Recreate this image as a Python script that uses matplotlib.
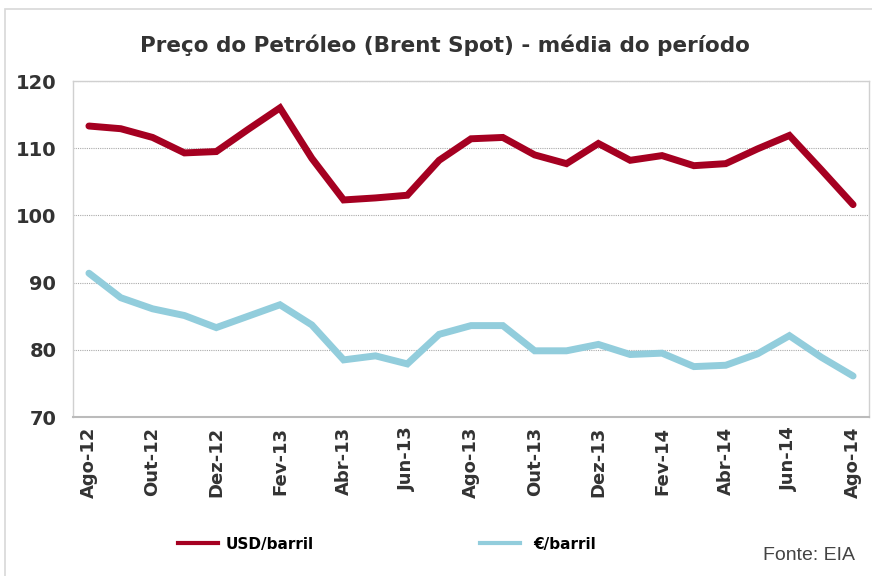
import matplotlib
matplotlib.use('Agg')
import matplotlib.pyplot as plt
from matplotlib.lines import Line2D
from matplotlib.patches import Rectangle
import numpy as np

# Dados (média mensal)
meses = ['Ago-12', 'Set-12', 'Out-12', 'Nov-12', 'Dez-12', 'Jan-13', 'Fev-13',
         'Mar-13', 'Abr-13', 'Mai-13', 'Jun-13', 'Jul-13', 'Ago-13', 'Set-13',
         'Out-13', 'Nov-13', 'Dez-13', 'Jan-14', 'Fev-14', 'Mar-14', 'Abr-14',
         'Mai-14', 'Jun-14', 'Jul-14', 'Ago-14']
usd_barril = [113.3, 112.9, 111.6, 109.3, 109.5, 112.8, 116.0, 108.5, 102.3,
              102.6, 103.0, 108.2, 111.4, 111.6, 109.0, 107.7, 110.7, 108.2,
              108.9, 107.4, 107.7, 109.9, 111.9, 106.8, 101.6]
eur_barril = [91.4, 87.75, 86.1, 85.1, 83.3, 85.0, 86.7, 83.7, 78.5, 79.1,
              77.9, 82.3, 83.6, 83.6, 79.85, 79.85, 80.8, 79.3, 79.5, 77.5,
              77.7, 79.4, 82.1, 78.9, 76.1]
y_ticks = [70, 80, 90, 100, 110, 120]

cor_usd = '#A50021'
cor_eur = '#92CDDC'
cor_txt = '#333333'

fig = plt.figure(figsize=(8.72, 5.76), dpi=100)
ax = fig.add_axes([73 / 872, 1 - 417 / 576, (869 - 73) / 872, (417 - 81) / 576])

x = np.arange(len(meses))
ax.plot(x, usd_barril, color=cor_usd, linewidth=5, solid_capstyle='round',
        solid_joinstyle='miter', zorder=3)
ax.plot(x, eur_barril, color=cor_eur, linewidth=5, solid_capstyle='round',
        solid_joinstyle='miter', zorder=3)

ax.set_xlim(-0.5, len(meses) - 0.5)
ax.set_ylim(70, 120)
ax.set_yticks(y_ticks)
ax.set_yticklabels([str(v) for v in y_ticks], fontsize=14, fontweight='bold',
                   color=cor_txt)
ax.set_xticks(x[::2])
ax.set_xticklabels(meses[::2], rotation=90, fontsize=13, fontweight='bold',
                   color=cor_txt)
ax.tick_params(axis='both', length=0)
ax.tick_params(axis='y', pad=12)
ax.tick_params(axis='x', pad=7)

ax.yaxis.grid(True, color='#aaaaaa', linestyle=(0, (1, 1)), linewidth=0.8)
ax.set_axisbelow(True)
for lado in ['top', 'right', 'left']:
    ax.spines[lado].set_color('#d0d0d0')
    ax.spines[lado].set_linewidth(1.0)
ax.spines['bottom'].set_color('#bbbbbb')
ax.spines['bottom'].set_linewidth(1.5)

fig.text(445 / 872, 1 - 45 / 576, 'Preço do Petróleo (Brent Spot) - média do período',
         ha='center', va='center', fontsize=15.5, fontweight='bold', color=cor_txt)

# Legenda (duas entradas separadas)
leg_props = {'weight': 'bold', 'size': 11}
leg1 = fig.legend([Line2D([], [], color=cor_usd, linewidth=3)], ['USD/barril'],
                  loc='center left', bbox_to_anchor=(178 / 872, 1 - 544 / 576),
                  frameon=False, borderpad=0, borderaxespad=0,
                  handlelength=2.6, handletextpad=0.5, prop=leg_props)
leg2 = fig.legend([Line2D([], [], color=cor_eur, linewidth=3)], ['€/barril'],
                  loc='center left', bbox_to_anchor=(480 / 872, 1 - 544 / 576),
                  frameon=False, borderpad=0, borderaxespad=0,
                  handlelength=2.6, handletextpad=0.9, prop=leg_props)

fig.text(855 / 872, 1 - 555 / 576, 'Fonte: EIA', ha='right', va='center',
         fontsize=14, family='Liberation Sans', color='#444444')

# Moldura exterior
fig.patches.append(Rectangle((5 / 872, -0.1), 1.2, 1 - 9 / 576 + 0.1,
                             transform=fig.transFigure, fill=False,
                             edgecolor='#d8d8d8', linewidth=1.2))

fig.savefig('out.png', dpi=100, facecolor='white')
